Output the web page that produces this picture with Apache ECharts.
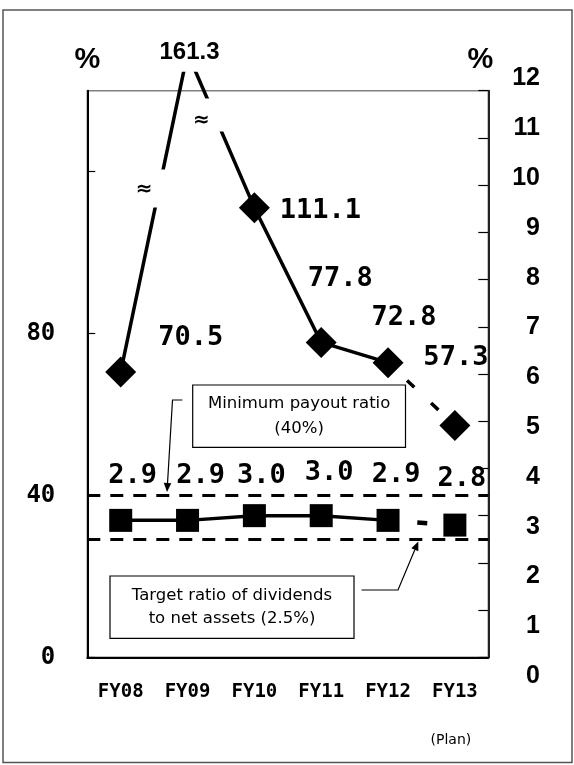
<!DOCTYPE html>
<html>
<head>
<meta charset="utf-8">
<script src="https://cdn.jsdelivr.net/npm/echarts@6/dist/echarts.min.js"></script>
<style>
  html, body { margin: 0; padding: 0; background: #fff; }
  #chart { width: 574px; height: 765px; }
</style>
</head>
<body>
<div id="chart"></div>
<script>
// ---- data ----
const years = ['FY08', 'FY09', 'FY10', 'FY11', 'FY12', 'FY13'];
// payout ratio (%), left axis
const payoutRatio = [70.5, 161.3, 111.1, 77.8, 72.8, 57.3];
// FY09 is above the axis break: it is drawn at about 149 on the left scale
const payoutDrawn = [70.5, 149.3, 111.1, 77.8, 72.8, 57.3];
// ratio of dividends to net assets (%), right axis
const doeRatio = [2.9, 2.9, 3.0, 3.0, 2.9, 2.8];
const minPayout = 40;
const targetDoe = 2.5;
const leftTicks = [0, 40, 80, 120];
const leftLabels = [0, 40, 80];
const planStart = 4; // FY12 -> FY13 is the plan (dashed)

// ---- label placement (offsets from the point, px) ----
const payoutLabelOffset = [[70, -34], [2, -0.6], [66, 3], [19, -63], [16, -45], [1, -67]];
const doeLabelOffset = [[12, -44], [13, -44], [7, -40], [8, -43], [8, -45], [7, -46]];

const mono = '"DejaVu Sans Mono", monospace';
const arial = '"Liberation Sans", Arial, sans-serif';
const sans = '"DejaVu Sans", sans-serif';

const valueLabel = {
  show: true, position: 'inside', color: '#000',
  fontFamily: mono, fontWeight: 'bold', fontSize: 27
};

function payoutItem(i, showSymbol) {
  const item = { value: payoutDrawn[i], label: { offset: payoutLabelOffset[i] } };
  if (!showSymbol) { item.symbol = 'none'; item.label = { show: false }; }
  if (i === 1) {
    // peak hidden behind its own label box
    item.symbol = 'circle';
    item.symbolSize = 1;
    item.label = {
      offset: payoutLabelOffset[i], fontFamily: arial, fontSize: 24,
      backgroundColor: '#fff', padding: [2, 6, 12.5, 6]
    };
  }
  return item;
}
function doeItem(i, showSymbol) {
  const item = { value: doeRatio[i], label: { offset: doeLabelOffset[i] } };
  if (!showSymbol) { item.symbol = 'none'; item.label = { show: false }; }
  return item;
}

const payoutActual = years.map((y, i) => i <= planStart ? payoutItem(i, true) : null);
const payoutPlan = years.map((y, i) => i < planStart ? null : payoutItem(i, i > planStart));
const doeActual = years.map((y, i) => i <= planStart ? doeItem(i, true) : null);
const doePlan = years.map((y, i) => i < planStart ? null : doeItem(i, i > planStart));

const dashed = { type: [13, 10], width: 3, color: '#000' };

const option = {
  animation: false,
  backgroundColor: '#fff',
  grid: [
    { left: 87.3, right: 85.7, top: 90.7, bottom: 107.7, show: true, borderColor: '#808080', borderWidth: 1.5 },
    { left: 87.3, right: 85.7, top: 78.5, bottom: 89 }
  ],
  xAxis: [
    {
      type: 'category', data: years, gridIndex: 0,
      axisLine: { lineStyle: { color: '#000', width: 2 } },
      axisTick: { inside: true, length: 8, lineStyle: { color: '#000', width: 1.2 } },
      axisLabel: { margin: 25, color: '#000', fontFamily: mono, fontWeight: 'bold', fontSize: 19 },
      splitLine: { show: false }
    },
    { type: 'category', data: years, gridIndex: 1, show: false }
  ],
  yAxis: [
    {
      type: 'value', min: 0, max: 140, interval: 40, gridIndex: 0,
      name: '%', nameLocation: 'end', nameGap: 16,
      nameTextStyle: { fontFamily: arial, fontWeight: 'bold', fontSize: 29, color: '#000' },
      axisLine: { show: true, lineStyle: { color: '#000', width: 2 } },
      axisTick: { show: true, inside: true, length: 8, customValues: leftTicks, lineStyle: { color: '#000', width: 1.2 } },
      axisLabel: { customValues: leftLabels, margin: 32, color: '#000', fontFamily: mono, fontWeight: 'bold', fontSize: 24 },
      splitLine: { show: false }
    },
    {
      type: 'value', min: 0, max: 12, interval: 1, gridIndex: 0, position: 'right',
      name: '%', nameLocation: 'end', nameGap: 16,
      nameTextStyle: { fontFamily: arial, fontWeight: 'bold', fontSize: 29, color: '#000', padding: [0, 16, 0, 0] },
      axisLine: { show: true, lineStyle: { color: '#222', width: 2 } },
      axisTick: { show: true, inside: true, length: 10, lineStyle: { color: '#000', width: 1.2 } },
      axisLabel: { show: false },
      splitLine: { show: false }
    },
    {
      // tick labels of the right scale, spaced as printed
      type: 'value', min: 0, max: 12, interval: 1, gridIndex: 1, position: 'right',
      axisLine: { show: false }, axisTick: { show: false }, splitLine: { show: false },
      axisLabel: { margin: 51.7, align: 'right', color: '#000', fontFamily: arial, fontWeight: 'bold', fontSize: 25 }
    }
  ],
  series: [
    {
      type: 'line', name: 'payout', xAxisIndex: 0, yAxisIndex: 0, data: payoutActual,
      clip: false, symbol: 'diamond', symbolSize: 31, z: 3,
      lineStyle: { color: '#000', width: 3.5 }, itemStyle: { color: '#000' },
      label: Object.assign({ formatter: p => payoutRatio[p.dataIndex].toFixed(1) }, valueLabel),
      markLine: {
        silent: true, symbol: ['none', 'none'], label: { show: false },
        lineStyle: dashed, data: [{ yAxis: minPayout }]
      }
    },
    {
      type: 'line', name: 'payout plan', xAxisIndex: 0, yAxisIndex: 0, data: payoutPlan,
      symbol: 'diamond', symbolSize: 31, z: 3,
      lineStyle: { color: '#000', width: 3.5, type: [10, 23], dashOffset: 7 }, itemStyle: { color: '#000' },
      label: Object.assign({ formatter: p => payoutRatio[p.dataIndex].toFixed(1) }, valueLabel)
    },
    {
      type: 'line', name: 'doe', xAxisIndex: 0, yAxisIndex: 1, data: doeActual,
      symbol: 'rect', symbolSize: 23, z: 3,
      lineStyle: { color: '#000', width: 3.5 }, itemStyle: { color: '#000' },
      label: Object.assign({ formatter: p => doeRatio[p.dataIndex].toFixed(1) }, valueLabel),
      markLine: {
        silent: true, symbol: ['none', 'none'], label: { show: false },
        lineStyle: dashed, data: [{ yAxis: targetDoe }]
      }
    },
    {
      type: 'line', name: 'doe plan', xAxisIndex: 0, yAxisIndex: 1, data: doePlan,
      symbol: 'rect', symbolSize: 23, z: 3,
      lineStyle: { color: '#000', width: 4.5, type: [10, 23], dashOffset: 3.7 }, itemStyle: { color: '#000' },
      label: Object.assign({ formatter: p => doeRatio[p.dataIndex].toFixed(1) }, valueLabel)
    }
  ]
};

const chart = echarts.init(document.getElementById('chart'));
chart.setOption(option);

// ---- decorations: axis-break marks, notes with arrows, frame ----
const breaks = [
  { from: 0, to: 1, t: 0.575, h: 38, tx: -15, ty: 1 },
  { from: 1, to: 2, t: 0.40, h: 33, tx: -13, ty: 6 }
];

function arrow(pts, size) {
  const n = pts.length, tip = pts[n - 1], prev = pts[n - 2];
  const dx = tip[0] - prev[0], dy = tip[1] - prev[1], len = Math.hypot(dx, dy);
  const ux = dx / len, uy = dy / len;
  const bx = tip[0] - ux * size, by = tip[1] - uy * size, half = size * 0.42;
  return [
    { type: 'polyline', z: 100, shape: { points: pts.slice(0, -1).concat([[bx, by]]) },
      style: { stroke: '#000', lineWidth: 1.2, fill: null } },
    { type: 'polygon', z: 100, shape: { points: [tip, [bx - uy * half, by + ux * half], [bx + uy * half, by - ux * half]] },
      style: { fill: '#000' } }
  ];
}

function noteBox(x, y, w, h, text, lineHeight) {
  return [
    { type: 'rect', z: 100, shape: { x: x, y: y, width: w, height: h }, style: { fill: '#fff', stroke: '#000', lineWidth: 1.2 } },
    { type: 'text', z: 101, x: x + w / 2, y: y + h / 2,
      style: { text: text, align: 'center', verticalAlign: 'middle', lineHeight: lineHeight,
               font: '16.5px ' + sans, fill: '#000' } }
  ];
}

const elements = [];
breaks.forEach(b => {
  const a = chart.convertToPixel({ seriesIndex: 0 }, [b.from, payoutDrawn[b.from]]);
  const c = chart.convertToPixel({ seriesIndex: 0 }, [b.to, payoutDrawn[b.to]]);
  const cx = a[0] + (c[0] - a[0]) * b.t, cy = a[1] + (c[1] - a[1]) * b.t;
  elements.push({ type: 'rect', z: 100, shape: { x: cx - 26, y: cy - b.h / 2, width: 37, height: b.h }, style: { fill: '#fff' } });
  elements.push({ type: 'text', z: 101, x: cx + b.tx, y: cy + b.ty,
    style: { text: '\u2248', align: 'center', verticalAlign: 'middle', font: 'bold 20px ' + sans, fill: '#000' } });
});

elements.push(...noteBox(192.7, 385, 212.8, 62.3, 'Minimum payout ratio\n(40%)', 25.7));
elements.push(...arrow([[182.4, 400], [172.5, 400], [167, 492]], 9));
elements.push(...noteBox(110, 576, 244, 62.3, 'Target ratio of dividends\nto net assets (2.5%)', 23.4));
elements.push(...arrow([[361.5, 590], [398, 590], [418.3, 541.5]], 9));

const planPos = chart.convertToPixel({ seriesIndex: 0 }, [years.length - 1, 0]);
elements.push({ type: 'text', z: 101, x: planPos[0] - 4, y: 740.7,
  style: { text: '(Plan)', align: 'center', verticalAlign: 'middle', font: '14px ' + sans, fill: '#000' } });

elements.push({ type: 'rect', z: 0, shape: { x: 3, y: 10, width: 569, height: 752.5 },
  style: { fill: null, stroke: '#555', lineWidth: 1.5 } });

chart.setOption({ graphic: { elements: elements } });
</script>
</body>
</html>
